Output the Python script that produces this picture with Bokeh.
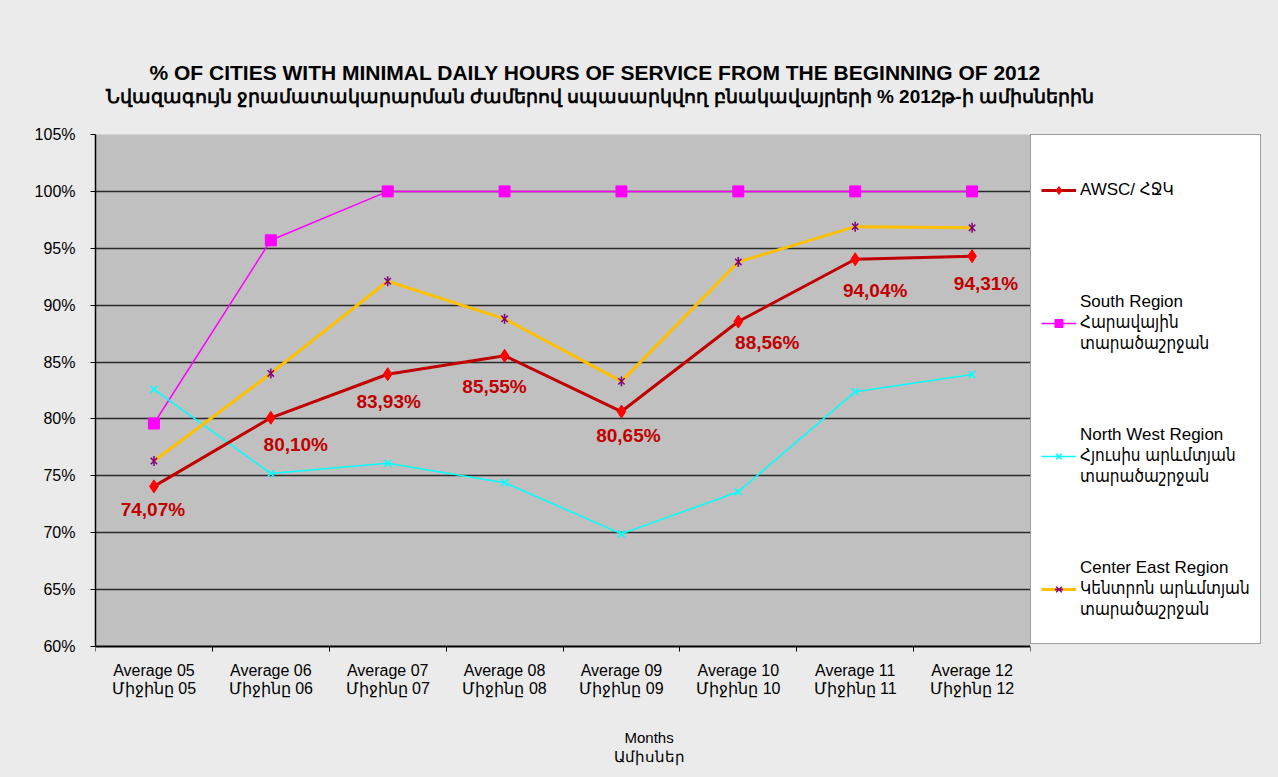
from bokeh.plotting import figure
from bokeh.models import (ColumnDataSource, Range1d, FixedTicker, NumeralTickFormatter,
                          LinearAxis, Legend, LegendItem, LabelSet, Title, BoxAnnotation)
from bokeh.core.properties import value
from bokeh.embed import file_html
from bokeh.resources import INLINE
import math

# ---------------- data ----------------
months = ["Average 05\nՄիջինը 05", "Average 06\nՄիջինը 06", "Average 07\nՄիջինը 07",
          "Average 08\nՄիջինը 08", "Average 09\nՄիջինը 09", "Average 10\nՄիջինը 10",
          "Average 11\nՄիջինը 11", "Average 12\nՄիջինը 12"]
awsc = [74.07, 80.10, 83.93, 85.55, 80.65, 88.56, 94.04, 94.31]
south = [79.6, 95.7, 100.0, 100.0, 100.0, 100.0, 100.0, 100.0]
north_west = [82.6, 75.2, 76.1, 74.4, 69.9, 73.6, 82.4, 83.9]
center_east = [76.3, 84.0, 92.1, 88.8, 83.3, 93.8, 96.9, 96.8]
awsc_labels = ["74,07%", "80,10%", "83,93%", "85,55%", "80,65%", "88,56%", "94,04%", "94,31%"]
series_names = ["AWSC/ ՀՋԿ",
                "South Region\nՀարավային\nտարածաշրջան",
                "North West Region\nՀյուսիս արևմտյան\nտարածաշրջան",
                "Center East Region\nԿենտրոն արևմտյան\nտարածաշրջան"]
y_ticks = [0.60, 0.65, 0.70, 0.75, 0.80, 0.85, 0.90, 0.95, 1.00, 1.05]
title_1 = "% OF CITIES WITH MINIMAL  DAILY HOURS OF SERVICE FROM THE BEGINNING OF 2012"
title_2 = "Նվազագույն ջրամատակարարման ժամերով սպասարկվող բնակավայրերի % 2012թ-ի  ամիսներին"
x_title = ["Months", "Ամիսներ"]

# label placement offsets (style, in pixels)
lab_dx = [-1, 25, 1, -10, 7, 29, 20, 14]
lab_dy = [-23, -27, -27, -31, -24, -21, -31, -27]

FONT = "Liberation Sans"
LEGEND_FONT = "Liberation Sans, DejaVu Sans Condensed, DejaVu Sans"
BG = "#ebebeb"
W, H = 1278, 777
PLOT_L, PLOT_R, PLOT_T, PLOT_B = 95, 1030, 134, 646   # grey plot-area edges (px)
TOP_GAP = 28        # room between subtitle and plot area
BOTTOM_GAP = 80     # room for the category labels below the plot area

n = len(months)
y_lo, y_hi = y_ticks[0], y_ticks[-1]
xc = [i + 0.5 for i in range(n)]
frac = lambda v: [x / 100.0 for x in v]
# the frame runs to the right edge (legend beside the grey area), a little above it,
# and below it down to the axis title
span_px = PLOT_B - PLOT_T
x_end = n * (W - PLOT_L) / (PLOT_R - PLOT_L)
y_end = y_hi + (y_hi - y_lo) * TOP_GAP / span_px
y_start = y_lo - (y_hi - y_lo) * BOTTOM_GAP / span_px

src = ColumnDataSource(dict(x=xc, awsc=frac(awsc), south=frac(south), nw=frac(north_west),
                            ce=frac(center_east), lab=awsc_labels, dx=lab_dx, dy=lab_dy))

p = figure(width=W, height=H, output_backend="svg", toolbar_location=None,
           x_range=Range1d(0, x_end), y_range=Range1d(y_start, y_end),
           min_border_left=PLOT_L, min_border_right=0, min_border_top=PLOT_T - TOP_GAP,
           min_border_bottom=H - PLOT_B - BOTTOM_GAP,
           background_fill_color=BG, border_fill_color=BG, outline_line_color=None)
p.xaxis.visible = False
p.xgrid.visible = False
p.title.visible = False

# grey plot area
p.add_layout(BoxAnnotation(left=0, right=n, bottom=y_lo, top=y_hi, fill_color="#c0c0c0",
                           fill_alpha=1.0, line_color=None, level="image"))

# y axis
p.yaxis.ticker = FixedTicker(ticks=y_ticks)
p.yaxis.bounds = (y_lo, y_hi)
p.yaxis.formatter = NumeralTickFormatter(format="0%")
p.yaxis.major_label_text_font = FONT
p.yaxis.major_label_text_font_size = "16px"
p.yaxis.major_label_text_color = "black"
p.yaxis.axis_line_color = "black"
p.yaxis.axis_line_width = 1.5
p.yaxis.major_tick_out = 5
p.yaxis.major_tick_in = 0
p.yaxis.major_tick_line_color = "black"
p.yaxis.minor_tick_line_color = None
p.yaxis.major_label_standoff = 15
p.ygrid.ticker = FixedTicker(ticks=y_ticks[1:-1])
p.ygrid.grid_line_color = "#2a2a2a"
p.ygrid.grid_line_width = 1.5

# page-coloured area right of the grey plot area (hides grid lines there)
p.add_layout(BoxAnnotation(left=n, fill_color=BG, fill_alpha=1.0, line_color=None))

# x axis at 60 %: labels at category centres, tick marks at category boundaries
x_axis = LinearAxis(ticker=FixedTicker(ticks=xc, minor_ticks=list(range(n + 1))),
                    bounds=(0, n), fixed_location=y_lo,
                    major_label_overrides={x: m for x, m in zip(xc, months)},
                    major_label_text_font=FONT, major_label_text_font_size="16px",
                    major_label_text_line_height=1.1,
                    major_label_text_color="black", major_label_standoff=10,
                    major_tick_out=0, major_tick_in=0,
                    minor_tick_out=5, minor_tick_in=0, minor_tick_line_color="black",
                    axis_line_color="black", axis_line_width=2)
p.add_layout(x_axis, "below")

# series
r_s_l = p.line("x", "south", source=src, line_color="#ff00ff", line_width=1.5)
r_s_m = p.scatter("x", "south", source=src, marker="square", size=11,
                  fill_color="#ff00ff", line_color="#ff00ff")
r_n_l = p.line("x", "nw", source=src, line_color="#00ffff", line_width=1.5)
r_n_m = p.scatter("x", "nw", source=src, marker="x", size=10, line_color="#00ffff", line_width=1.5)
r_c_l = p.line("x", "ce", source=src, line_color="#ffc000", line_width=3)
r_c_m = p.scatter("x", "ce", source=src, marker="x", size=9, line_color="#800080", line_width=1.5)
r_c_m2 = p.scatter("x", "ce", source=src, marker="dash", angle=math.pi / 2, size=10,
                   line_color="#800080", line_width=1.5)
r_a_l = p.line("x", "awsc", source=src, line_color="#c00000", line_width=3)
r_a_m = p.scatter("x", "awsc", source=src, marker="diamond", size=13,
                  fill_color="#ff0000", line_color="#ff0000")

labels = LabelSet(x="x", y="awsc", text="lab", source=src, x_offset="dx", y_offset="dy",
                  text_align="center", text_baseline="middle", text_font=value(FONT),
                  text_font_size="19px", text_font_style="bold", text_color="#c00000")
p.add_layout(labels)

legend = Legend(items=[LegendItem(label=series_names[0], renderers=[r_a_l, r_a_m]),
                       LegendItem(label=series_names[1], renderers=[r_s_l, r_s_m]),
                       LegendItem(label=series_names[2], renderers=[r_n_l, r_n_m]),
                       LegendItem(label=series_names[3], renderers=[r_c_l, r_c_m, r_c_m2])],
                location=(PLOT_R - PLOT_L, BOTTOM_GAP + 2), margin=0, padding=10, spacing=44,
                glyph_width=35, glyph_height=20, label_standoff=4, label_height=89,
                label_text_font=LEGEND_FONT, label_text_font_size="17px",
                label_text_color="black", label_text_line_height=1.2,
                border_line_color="#404040", border_line_width=1.5,
                background_fill_color="white", background_fill_alpha=1.0)
p.add_layout(legend)

# titles (first added sits nearest the frame)
has_standoff = "standoff" in Title.properties()


def make_title(txt, size, bold, offset):
    t = Title(text=txt, align="left", offset=offset, text_font=FONT, text_font_size=size,
              text_font_style="bold" if bold else "normal", text_color="black")
    if has_standoff:
        t.standoff = 0
    return t


p.add_layout(make_title(title_2, "19px", True, 10), "above")
p.add_layout(make_title(title_1, "21px", True, 54), "above")
p.add_layout(make_title(x_title[0], "15px", False, 529), "below")
p.add_layout(make_title(x_title[1], "15px", False, 518), "below")

html = file_html(p, INLINE)
html = html.replace("</head>", "<style>html, body {background: %s;}</style></head>" % BG)
open("out.html", "w").write(html)
